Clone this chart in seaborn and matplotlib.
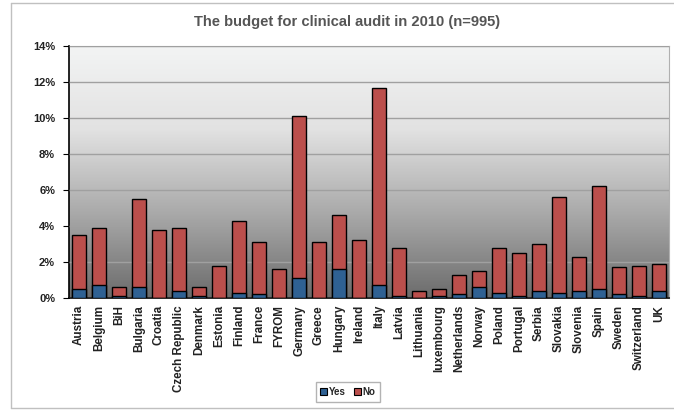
import numpy as np
import pandas as pd
import matplotlib
matplotlib.use("Agg")
import matplotlib.pyplot as plt
from matplotlib.colors import LinearSegmentedColormap
from matplotlib.patches import Patch
import seaborn as sns

countries = ['Austria', 'Belgium', 'BiH', 'Bulgaria', 'Croatia', 'Czech Republic', 'Denmark',
             'Estonia', 'Finland', 'France', 'FYROM', 'Germany', 'Greece', 'Hungary', 'Ireland',
             'Italy', 'Latvia', 'Lithuania', 'luxembourg', 'Netherlands', 'Norway', 'Poland',
             'Portugal', 'Serbia', 'Slovakia', 'Slovenia', 'Spain', 'Sweden', 'Switzerland', 'UK']
# share of respondents (%) - "Yes" part and whole bar (Yes + No)
yes = [0.5, 0.7, 0.1, 0.6, 0.0, 0.4, 0.1, 0.0, 0.3, 0.2, 0.0, 1.1, 0.0, 1.6, 0.0,
       0.7, 0.1, 0.0, 0.1, 0.2, 0.6, 0.3, 0.1, 0.4, 0.3, 0.4, 0.5, 0.2, 0.1, 0.4]
total = [3.5, 3.9, 0.6, 5.5, 3.8, 3.9, 0.6, 1.8, 4.3, 3.1, 1.6, 10.1, 3.1, 4.6, 3.2,
         11.65, 2.8, 0.4, 0.5, 1.3, 1.5, 2.8, 2.5, 3.0, 5.6, 2.3, 6.2, 1.7, 1.8, 1.9]

df = pd.DataFrame({'country': countries, 'yes': yes, 'total': total})
df['no'] = df['total'] - df['yes']

sns.set_style("white")
plt.rcParams['font.family'] = ['Liberation Sans', 'DejaVu Sans']
plt.rcParams['font.weight'] = 'bold'

blue = '#2f6193'
red = '#bb4f4c'

fig = plt.figure(figsize=(6.74, 4.11), dpi=100)
ax = fig.add_axes([69 / 674, 1 - 298 / 411, 600 / 674, 252 / 411])

n = len(countries)
# grey gradient background of the plot area
cmap = LinearSegmentedColormap.from_list('bg', ['#6c6c6c', '#a9a9a9', '#e2e2e2', '#f3f4f4'])
grad = np.linspace(0, 1, 256).reshape(-1, 1)
ax.imshow(grad, cmap=cmap, origin='lower', aspect='auto',
          extent=(-0.5, n - 0.5, 0, 14), zorder=0)

sns.barplot(data=df, x='country', y='total', color=red, width=0.67,
            edgecolor='black', linewidth=1, saturation=1, ax=ax, zorder=3)
sns.barplot(data=df, x='country', y='yes', color=blue, width=0.67,
            edgecolor='black', linewidth=1, saturation=1, ax=ax, zorder=4)

ax.set_xlim(-0.5, n - 0.5)
ax.set_ylim(0, 14)
ax.set_yticks(np.arange(0, 15, 2))
ax.set_yticklabels([f'{v}%' for v in range(0, 15, 2)], fontsize=8, fontweight='bold', color='#222222')
ax.yaxis.grid(True, color='#a0a0a0', linewidth=1)
ax.set_axisbelow(False)
for line in ax.get_ygridlines():
    line.set_zorder(1)

ax.set_xlabel('')
ax.set_ylabel('')
ax.set_xticks(range(n))
ax.set_xticklabels(countries, rotation=90, fontsize=8.4, fontweight='bold', color='#222222')
ax.set_xticks(np.arange(-0.5, n, 1), minor=True)
ax.tick_params(axis='x', which='major', length=0, pad=5)
ax.tick_params(axis='x', which='minor', length=4, color='#888888', direction='out')
ax.tick_params(axis='y', which='major', length=4, color='black', direction='out', left=True, pad=6)

for s in ['left', 'bottom']:
    ax.spines[s].set_color('black')
    ax.spines[s].set_linewidth(1.2)
for s in ['top', 'right']:
    ax.spines[s].set_color('#b0b0b0')
    ax.spines[s].set_linewidth(0.8)

fig.text(347 / 674, 1 - 22 / 411, 'The budget for clinical audit in 2010 (n=995)',
         ha='center', va='center', fontsize=10.6, fontweight='bold', color='#555555')

handles = [Patch(facecolor=blue, edgecolor='black', linewidth=0.8, label='Yes'),
           Patch(facecolor=red, edgecolor='black', linewidth=0.8, label='No')]
fig.legend(handles=handles, loc='center', bbox_to_anchor=(348 / 674, 1 - 392 / 411), ncol=2,
           fontsize=7, frameon=True, fancybox=False, edgecolor='#a0a0a0',
           handlelength=0.7, handleheight=0.7, handletextpad=0.2, columnspacing=0.8,
           borderpad=0.5)

# outer chart border
for coords in [([11, 11], [3, 408]), ([11, 674], [3, 3]), ([11, 674], [408, 408])]:
    fig.add_artist(plt.Line2D(np.array(coords[0]) / 674, 1 - np.array(coords[1]) / 411,
                              color='#c0c0c0', linewidth=1))

fig.savefig('out.png', dpi=100)
